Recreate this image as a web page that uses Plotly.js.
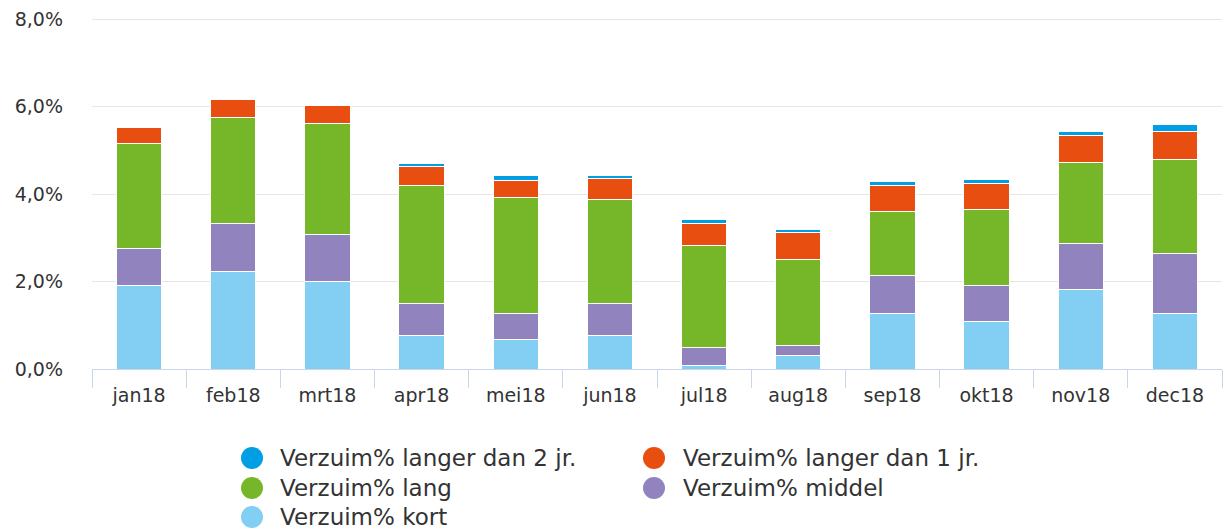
<!DOCTYPE html>
<html>
<head>
<meta charset="utf-8">
<script src="https://cdn.plot.ly/plotly-3.0.1.min.js"></script>
<style>
  html, body { margin: 0; padding: 0; background: #fff; }
  #chart { width: 1225px; height: 530px; }
</style>
</head>
<body>
<div id="chart"></div>
<script>
const months = ['jan18','feb18','mrt18','apr18','mei18','jun18','jul18','aug18','sep18','okt18','nov18','dec18'];
const kort    = [1.92, 2.23, 2.01, 0.77, 0.68, 0.77, 0.08, 0.31, 1.27, 1.09, 1.82, 1.27];
const middel  = [0.83, 1.10, 1.06, 0.73, 0.59, 0.73, 0.42, 0.23, 0.87, 0.83, 1.06, 1.38];
const lang    = [2.41, 2.43, 2.55, 2.70, 2.66, 2.38, 2.33, 1.97, 1.47, 1.73, 1.83, 2.15];
const langer1 = [0.36, 0.41, 0.41, 0.42, 0.37, 0.47, 0.50, 0.60, 0.59, 0.60, 0.64, 0.64];
const langer2 = [0.00, 0.00, 0.00, 0.08, 0.12, 0.07, 0.09, 0.08, 0.09, 0.09, 0.08, 0.14];
const yTickVals = [0, 2, 4, 6, 8];
const yTickText = ['0,0%', '2,0%', '4,0%', '6,0%', '8,0%'];
const seriesNames = ['Verzuim% kort','Verzuim% middel','Verzuim% lang','Verzuim% langer dan 1 jr.','Verzuim% langer dan 2 jr.'];
const seriesData = [kort, middel, lang, langer1, langer2];
const colors = ['#83CFF4','#9184BE','#76B72A','#E84E0F','#009FE3'];

const traces = seriesData.map((d, i) => ({
  type: 'bar',
  x: months,
  y: d,
  name: seriesNames[i],
  marker: { color: colors[i], line: { color: '#ffffff', width: 1 } },
  showlegend: false
}));

// plot area geometry (pixels) used to place the legend in paper coordinates
const W = 1225, H = 530, ML = 92, MR = 3, MT = 18, MB = 161;
const PW = W - ML - MR, PH = H - MT - MB;
const px = X => (X - ML) / PW;
const py = Y => (H - MB - Y) / PH;

// Legend (order: 2jr, 1jr, lang, middel, kort; two columns)
const legendOrder = [4, 3, 2, 1, 0];
const colX = [px(252), px(654)];
const textX = [px(278), px(681)];
const rowY = [py(458), py(488), py(517)];
const shapes = [];
const annotations = [];
legendOrder.forEach((si, k) => {
  const col = k % 2, row = Math.floor(k / 2);
  shapes.push({
    type: 'circle', xref: 'paper', yref: 'paper',
    xsizemode: 'pixel', ysizemode: 'pixel',
    xanchor: colX[col], yanchor: rowY[row],
    x0: -11, x1: 11, y0: -11, y1: 11,
    fillcolor: colors[si], line: { width: 0 }
  });
  annotations.push({
    xref: 'paper', yref: 'paper', x: textX[col], y: rowY[row],
    xanchor: 'left', yanchor: 'middle', showarrow: false,
    text: seriesNames[si],
    font: { family: 'DejaVu Sans, Verdana, sans-serif', size: 23, color: '#333333' }
  });
});

const layout = {
  width: W, height: H,
  margin: { l: ML, r: MR, t: MT, b: MB },
  paper_bgcolor: '#ffffff', plot_bgcolor: '#ffffff',
  barmode: 'stack',
  bargap: 0.52,
  font: { family: 'DejaVu Sans, Verdana, sans-serif', color: '#333333' },
  xaxis: {
    type: 'category',
    showgrid: false,
    showline: true, linecolor: '#CCD6EB', linewidth: 1,
    ticks: 'outside', tickson: 'boundaries', ticklen: 18, tickcolor: '#CCD6EB', tickwidth: 1,
    tickfont: { size: 19, color: '#333333' },
    ticklabelstandoff: 9,
    zeroline: false, fixedrange: true
  },
  yaxis: {
    range: [0, 8.025],
    tickmode: 'array', tickvals: yTickVals, ticktext: yTickText,
    showgrid: true, gridcolor: '#E6E6E6', gridwidth: 1,
    zeroline: false, showline: false,
    tickfont: { size: 19, color: '#333333' },
    ticklabelstandoff: 28,
    fixedrange: true
  },
  showlegend: false,
  shapes: shapes,
  annotations: annotations
};

Plotly.newPlot('chart', traces, layout, { displayModeBar: false, staticPlot: true });
</script>
</body>
</html>
